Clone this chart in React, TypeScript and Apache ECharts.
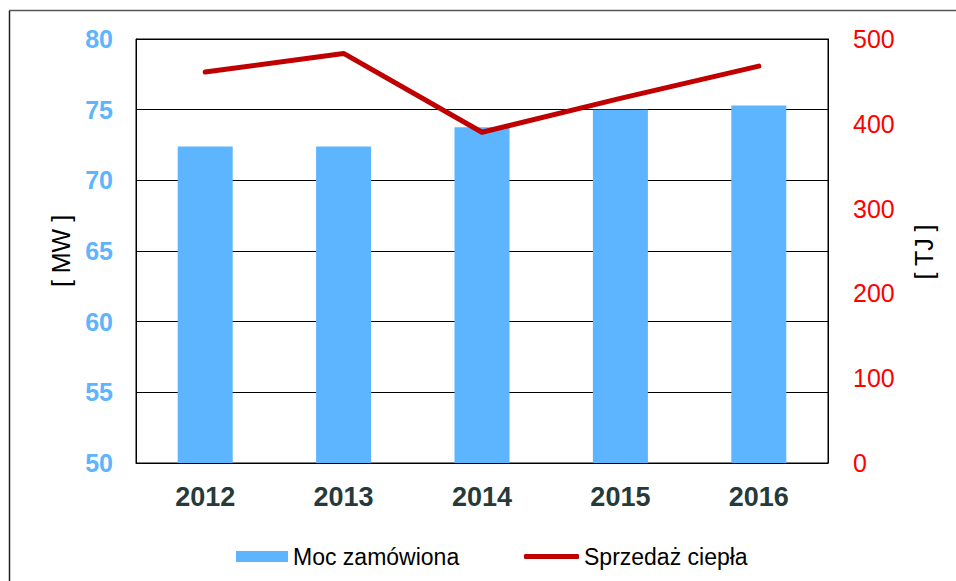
import React, { useEffect, useRef } from "react";
import * as echarts from "echarts";

const categories = ["2012", "2013", "2014", "2015", "2016"];
const mocZamowiona = [72.4, 72.4, 73.75, 75.0, 75.3];
const sprzedazCiepla = [461, 483, 390, 430, 468];
const leftAxisName = "[ MW ]";
const rightAxisName = "[ TJ ]";

const FONT = "'Liberation Sans', Arial, sans-serif";

export default function App() {
  const ref = useRef<HTMLDivElement>(null);
  useEffect(() => {
    if (!ref.current) return;
    const chart = echarts.init(ref.current, null, { renderer: "svg" });
    chart.setOption({
      animation: false,
      backgroundColor: "#fff",
      textStyle: { fontFamily: FONT },
      grid: {
        left: 136,
        right: 128,
        top: 39,
        bottom: 118,
        show: true,
        borderColor: "#000",
        borderWidth: 1,
        containLabel: false,
      },
      legend: [
        {
          left: 231,
          top: 540,
          itemWidth: 52,
          itemHeight: 11,
          textStyle: { fontFamily: FONT, fontSize: 23, color: "#000" },
          data: [{ name: "Moc zamówiona", icon: "rect" }],
        },
        {
          left: 519,
          top: 540,
          itemWidth: 55,
          itemHeight: 5,
          textStyle: { fontFamily: FONT, fontSize: 23, color: "#000" },
          data: [{ name: "Sprzedaż ciepła", icon: "roundRect" }],
        },
      ],
      xAxis: {
        type: "category",
        data: categories,
        axisLine: { show: true, lineStyle: { color: "#000", width: 1 } },
        axisTick: { show: false },
        axisLabel: {
          fontFamily: FONT,
          fontSize: 27,
          fontWeight: "bold",
          color: "#263a3a",
          margin: 20,
        },
      },
      yAxis: [
        {
          type: "value",
          min: 50,
          max: 80,
          interval: 5,
          axisLine: { show: true, lineStyle: { color: "#000" } },
          axisTick: { show: false },
          splitLine: { show: true, lineStyle: { color: "#000", width: 1 } },
          axisLabel: {
            fontFamily: FONT,
            fontSize: 25,
            fontWeight: "bold",
            color: "#5db4ff",
            margin: 23,
          },
        },
        {
          type: "value",
          min: 0,
          max: 500,
          interval: 100,
          position: "right",
          axisLine: { show: true, lineStyle: { color: "#000" } },
          axisTick: { show: false },
          splitLine: { show: false },
          axisLabel: {
            fontFamily: FONT,
            fontSize: 25,
            color: "#ff0000",
            margin: 25,
          },
        },
      ],
      series: [
        {
          name: "Moc zamówiona",
          type: "bar",
          data: mocZamowiona,
          barWidth: 55,
          itemStyle: { color: "#5db4ff" },
        },
        {
          name: "Sprzedaż ciepła",
          type: "line",
          yAxisIndex: 1,
          data: sprzedazCiepla,
          symbol: "none",
          showSymbol: false,
          lineStyle: { color: "#c00000", width: 5, cap: "round", join: "round" },
          itemStyle: { color: "#c00000" },
          z: 5,
        },
      ],
      graphic: [
        {
          type: "line",
          shape: { x1: 9.5, y1: 10.5, x2: 956, y2: 10.5 },
          style: { stroke: "#555", lineWidth: 1.5 },
          silent: true,
        },
        {
          type: "line",
          shape: { x1: 9.5, y1: 10.5, x2: 9.5, y2: 581 },
          style: { stroke: "#222", lineWidth: 1.5 },
          silent: true,
        },
        {
          type: "text",
          x: 61,
          y: 251,
          rotation: Math.PI / 2,
          style: {
            text: leftAxisName,
            fontFamily: FONT,
            fontSize: 25,
            fill: "#000",
            textAlign: "center",
            textVerticalAlign: "middle",
          },
        },
        {
          type: "text",
          x: 924,
          y: 252,
          rotation: Math.PI / 2,
          style: {
            text: rightAxisName,
            fontFamily: FONT,
            fontSize: 25,
            fill: "#000",
            textAlign: "center",
            textVerticalAlign: "middle",
          },
        },
      ],
    });
    return () => chart.dispose();
  }, []);
  return <div ref={ref} style={{ width: 956, height: 581, position: "absolute", left: 0, top: 0 }} />;
}
